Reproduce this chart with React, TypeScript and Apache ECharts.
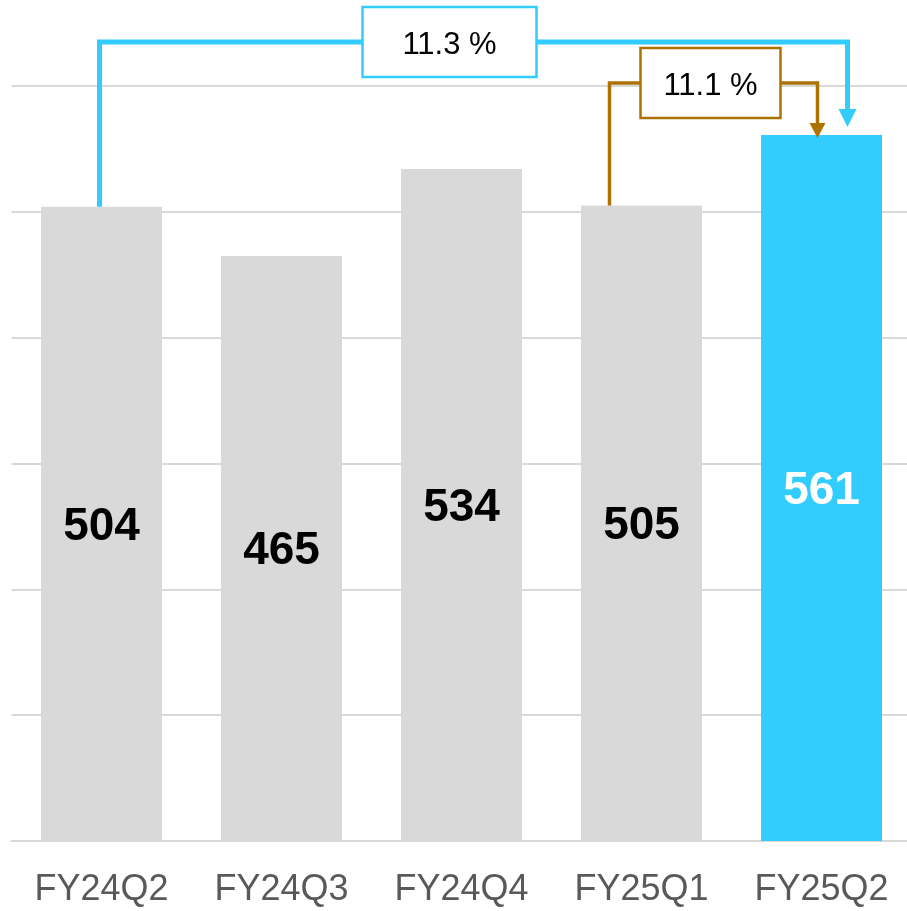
import React, { useEffect, useRef } from "react";
import * as echarts from "echarts";

const categories = ["FY24Q2", "FY24Q3", "FY24Q4", "FY25Q1", "FY25Q2"];
const values = [504, 465, 534, 505, 561];
const highlightIndex = 4;
const growthLabels = ["11.3 %", "11.1 %"];
const growthFrom = [0, 3];
const growthTo = 4;

const GRAY = "#d9d9d9";
const CYAN = "#33ccff";
const BROWN = "#ad7300";

export default function App() {
  const ref = useRef<HTMLDivElement>(null);
  useEffect(() => {
    if (!ref.current) return;
    const chart = echarts.init(ref.current, null, { renderer: "svg" });
    chart.setOption({
      animation: false,
      grid: {
        left: 11.5,
        right: -4.5,
        top: 86,
        bottom: 70,
        outerBoundsMode: "none",
        containLabel: false,
      },
      xAxis: {
        type: "category",
        data: categories,
        axisTick: { show: false },
        axisLine: { show: true, lineStyle: { color: GRAY, width: 2 } },
        axisLabel: {
          interval: 0,
          color: "#595959",
          fontSize: 36,
          fontFamily: '"Liberation Sans", Arial, sans-serif',
          margin: 28,
        },
      },
      yAxis: {
        type: "value",
        min: 0,
        max: 600,
        interval: 100,
        axisLabel: { show: false },
        axisLine: { show: false },
        axisTick: { show: false },
        splitLine: { show: true, lineStyle: { color: GRAY, width: 2 } },
      },
      series: [
        {
          type: "bar",
          barWidth: 121,
          data: values.map((v, i) => ({
            value: v,
            itemStyle: { color: i === highlightIndex ? CYAN : GRAY },
            label: { color: i === highlightIndex ? "#ffffff" : "#000000" },
          })),
          label: {
            show: true,
            position: "inside",
            fontSize: 46,
            fontWeight: "bold",
            fontFamily: '"Liberation Sans", Arial, sans-serif',
          },
        },
      ],
    });

    const px = (i: number, v: number) =>
      chart.convertToPixel({ gridIndex: 0 }, [i, v]) as number[];
    const gridTop = px(0, 600)[1];

    const makeBracket = (
      k: number,
      color: string,
      lw: number,
      fromOff: number,
      toOff: number,
      levelY: number,
      tipGap: number,
      headW: number,
      headH: number,
      boxCx: number,
      boxW: number
    ) => {
      const a = px(growthFrom[k], values[growthFrom[k]]);
      const b = px(growthTo, values[growthTo]);
      const xa = a[0] + fromOff;
      const xb = b[0] + toOff;
      const tipY = b[1] + tipGap;
      const els: any[] = [];
      els.push({
        type: "polyline",
        z: 100,
        shape: {
          points: [
            [xa, a[1]],
            [xa, levelY],
            [xb, levelY],
            [xb, tipY - headH + 1],
          ],
        },
        style: { stroke: color, lineWidth: lw, fill: null, lineJoin: "miter" },
      });
      els.push({
        type: "polygon",
        z: 100,
        shape: {
          points: [
            [xb - headW / 2, tipY - headH],
            [xb + headW / 2, tipY - headH],
            [xb, tipY],
          ],
        },
        style: { fill: color },
      });
      els.push({
        type: "rect",
        z: 101,
        shape: { x: boxCx - boxW / 2, y: levelY - 35, width: boxW, height: 70 },
        style: { fill: "#ffffff", stroke: color, lineWidth: 2.5 },
      });
      els.push({
        type: "text",
        z: 102,
        style: {
          text: growthLabels[k],
          x: boxCx,
          y: levelY + 1,
          align: "center",
          verticalAlign: "middle",
          fill: "#000000",
          fontSize: 31,
          fontFamily: '"Liberation Sans", Arial, sans-serif',
        },
      });
      return els;
    };

    const x2 = px(2, 0)[0];
    const x4 = px(4, 0)[0];
    const graphic = [
      ...makeBracket(0, CYAN, 5, -2, 26, gridTop - 44, -8, 18, 18, x2 - 12, 174),
      ...makeBracket(1, BROWN, 3.5, -32, -4, gridTop - 3, 3, 16, 15, x4 - 111, 140),
    ];
    chart.setOption({ graphic });

    return () => chart.dispose();
  }, []);
  return (
    <div
      ref={ref}
      style={{ position: "fixed", left: 0, top: 0, width: 907, height: 911 }}
    />
  );
}
